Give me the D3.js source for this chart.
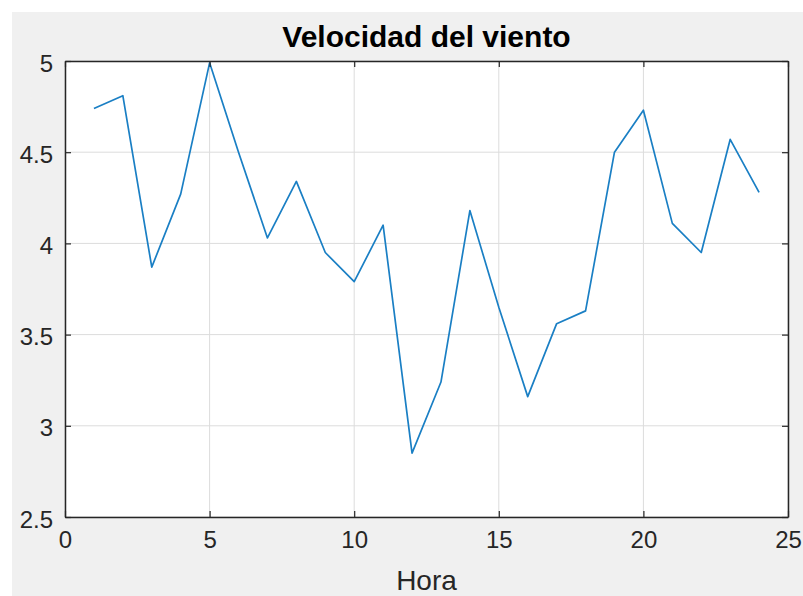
<!DOCTYPE html>
<html>
<head>
<meta charset="utf-8">
<script src="https://cdn.jsdelivr.net/npm/d3@7"></script>
<style>
  html, body { margin: 0; padding: 0; background: #ffffff; }
  svg { display: block; }
</style>
</head>
<body>
<svg id="chart" width="803" height="596"></svg>
<script>
// Data
const hours = [1,2,3,4,5,6,7,8,9,10,11,12,13,14,15,16,17,18,19,20,21,22,23,24];
const windSpeed = [4.74,4.81,3.87,4.27,4.99,4.50,4.03,4.34,3.95,3.79,4.10,2.85,3.24,4.18,3.65,3.16,3.56,3.63,4.50,4.73,4.11,3.95,4.57,4.28];
const xTicks = [0,5,10,15,20,25];
const yTicks = [2.5,3,3.5,4,4.5,5];
const titleText = "Velocidad del viento";
const xLabelText = "Hora";

const svg = d3.select("#chart");
const W = 803, H = 596;
const margin = {left: 65, top: 61, right: 788, bottom: 517};

// figure background
svg.append("rect").attr("x", 12).attr("y", 12).attr("width", W - 12).attr("height", H - 12).attr("fill", "#f0f0f0");

const x = d3.scaleLinear().domain([0, 25]).range([margin.left, margin.right]);
const y = d3.scaleLinear().domain([2.5, 5]).range([margin.bottom, margin.top]);

// axes background
svg.append("rect")
  .attr("x", margin.left).attr("y", margin.top)
  .attr("width", margin.right - margin.left).attr("height", margin.bottom - margin.top)
  .attr("fill", "#ffffff");

// grid
const grid = svg.append("g").attr("stroke", "#dcdcdc").attr("stroke-width", 1);
xTicks.forEach(t => {
  grid.append("line").attr("x1", x(t)).attr("x2", x(t)).attr("y1", margin.top).attr("y2", margin.bottom);
});
yTicks.forEach(t => {
  grid.append("line").attr("y1", y(t)).attr("y2", y(t)).attr("x1", margin.left).attr("x2", margin.right);
});

// data line
const line = d3.line().x((d, i) => x(hours[i])).y(d => y(d));
svg.append("path")
  .datum(windSpeed)
  .attr("fill", "none")
  .attr("stroke", "#1a7fc4")
  .attr("stroke-width", 1.7)
  .attr("stroke-linejoin", "round")
  .attr("d", line);

// axes using d3 axis (ticks inward)
const axisColor = "#262626";
const tickFont = "Liberation Sans, Arial, sans-serif";

const xAxisB = svg.append("g").attr("transform", `translate(0,${margin.bottom})`)
  .call(d3.axisBottom(x).tickValues(xTicks).tickSize(-6).tickPadding(14).tickSizeOuter(0).tickFormat(d3.format("d")));
const xAxisT = svg.append("g").attr("transform", `translate(0,${margin.top})`)
  .call(d3.axisTop(x).tickValues(xTicks).tickSize(-6).tickSizeOuter(0).tickFormat(""));
const yAxisL = svg.append("g").attr("transform", `translate(${margin.left},0)`)
  .call(d3.axisLeft(y).tickValues(yTicks).tickSize(-6).tickPadding(12).tickSizeOuter(0).tickFormat(d => String(d)));
const yAxisR = svg.append("g").attr("transform", `translate(${margin.right},0)`)
  .call(d3.axisRight(y).tickValues(yTicks).tickSize(-6).tickSizeOuter(0).tickFormat(""));

[xAxisB, xAxisT, yAxisL, yAxisR].forEach(g => {
  g.selectAll(".domain").attr("stroke", axisColor).attr("stroke-width", 1.5);
  g.selectAll(".tick line").attr("stroke", axisColor).attr("stroke-width", 1.2);
  g.selectAll("text").attr("fill", axisColor).style("font-family", tickFont).style("font-size", "24px");
});
yAxisL.selectAll("text").attr("dy", "0.42em");

// title
svg.append("text")
  .attr("x", (margin.left + margin.right) / 2)
  .attr("y", 47)
  .attr("text-anchor", "middle")
  .attr("fill", "#000000")
  .style("font-family", tickFont)
  .style("font-weight", "bold")
  .style("font-size", "30px")
  .text(titleText);

// x label
svg.append("text")
  .attr("x", (margin.left + margin.right) / 2)
  .attr("y", 590)
  .attr("text-anchor", "middle")
  .attr("fill", axisColor)
  .style("font-family", tickFont)
  .style("font-size", "28px")
  .text(xLabelText);
</script>
</body>
</html>
